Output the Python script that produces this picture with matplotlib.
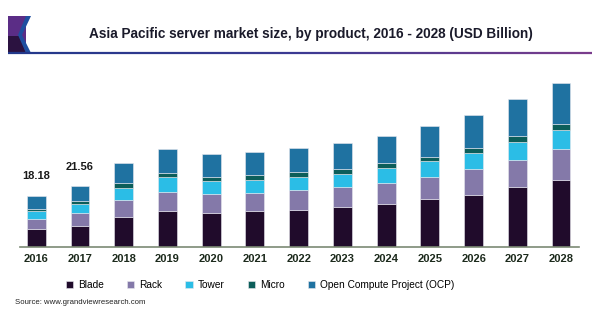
import numpy as np
import matplotlib.pyplot as plt
from matplotlib.patches import Polygon
from matplotlib.collections import LineCollection

plt.rcParams['font.family'] = ['Liberation Sans', 'DejaVu Sans']

# market size by product, USD billion
years = ['2016', '2017', '2018', '2019', '2020', '2021', '2022',
         '2023', '2024', '2025', '2026', '2027', '2028']
blade = [6.25, 7.6, 10.7, 12.7, 12.1, 12.7, 13.3, 14.1, 15.4, 17.2, 18.6, 21.4, 24.0]
rack = [3.75, 4.4, 6.05, 6.9, 6.65, 6.65, 6.9, 7.25, 7.5, 7.85, 9.0, 9.6, 10.7]
tower = [2.7, 3.3, 4.25, 5.2, 4.65, 4.65, 4.75, 4.75, 5.2, 5.45, 5.95, 6.3, 6.9]
micro = [0.9, 1.06, 1.75, 1.65, 1.65, 1.65, 1.65, 1.75, 1.65, 1.65, 1.65, 2.0, 2.15]
ocp = [4.58, 5.2, 7.25, 8.55, 8.05, 8.3, 8.65, 9.15, 9.85, 10.8, 11.9, 13.2, 14.7]
totals_shown = {0: '18.18', 1: '21.56'}

series = [('Blade', blade, '#200b2b'),
          ('Rack', rack, '#8479a9'),
          ('Tower', tower, '#2bbde6'),
          ('Micro', micro, '#0c5e5a'),
          ('Open Compute Project (OCP)', ocp, '#1f72a1')]

fig = plt.figure(figsize=(6, 3.25), dpi=100)
ax = fig.add_axes([20 / 600, 78 / 325, 559 / 600, 187 / 325])

x = np.arange(len(years))
bottom = np.zeros(len(years))
handles = []
for name, vals, col in series:
    h = ax.bar(x, vals, width=0.43, bottom=bottom, color=col,
               edgecolor='#e8e8ee', linewidth=0.4, label=name)
    handles.append(h)
    bottom += np.array(vals)

for i, txt in totals_shown.items():
    ax.text(x[i], bottom[i] + 5.2, txt, ha='center', va='bottom',
            fontsize=8, fontweight='bold', color='#1a1a1a')

ax.set_xlim(-0.37, 12.41)
ax.set_ylim(0, 66.5)
ax.set_xticks(x)
ax.set_xticklabels(years, fontsize=8, fontweight='bold', color='#1c2a1c')
ax.tick_params(axis='x', length=0, pad=5)
ax.set_yticks([])
for side in ['top', 'right', 'left']:
    ax.spines[side].set_visible(False)
ax.spines['bottom'].set_color('#7c8a74')
ax.spines['bottom'].set_linewidth(1.2)

# title and gradient rule under it
fig.text(0.518, 1 - 34 / 325, 'Asia Pacific server market size, by product, 2016 - 2028 (USD Billion)',
         ha='center', va='center', fontsize=9.8, fontweight='bold', color='#1a1a2a')
xs = np.linspace(8 / 600, 592 / 600, 120)
segs = [[(xs[k], 1 - 53 / 325), (xs[k + 1], 1 - 53 / 325)] for k in range(len(xs) - 1)]
cmap = plt.matplotlib.colors.LinearSegmentedColormap.from_list('rule', ['#22388a', '#3c3a92', '#7a3c8c'])
lc = LineCollection(segs, colors=cmap(np.linspace(0, 1, len(segs))), linewidths=1.6,
                    transform=fig.transFigure)
fig.add_artist(lc)

# logo
def px(pts):
    return [(a / 600, 1 - b / 325) for a, b in pts]

fig.add_artist(Polygon(px([(8, 16), (26, 16), (26, 53), (8, 53)]), closed=True,
                       facecolor='#5b2d86', edgecolor='none', transform=fig.transFigure))
fig.add_artist(Polygon(px([(8, 36), (20, 36), (26, 53), (8, 53)]), closed=True,
                       facecolor='#2b1240', edgecolor='none', transform=fig.transFigure))
fig.add_artist(Polygon(px([(26, 16), (31, 16), (22, 35), (31, 53), (26, 53), (18, 35)]), closed=True,
                       facecolor='#1f4fa0', edgecolor='none', transform=fig.transFigure))

fig.legend(handles=handles, loc='center', bbox_to_anchor=(260 / 600, 1 - 285 / 325),
           ncol=5, frameon=False, fontsize=7.3, handlelength=0.7, handleheight=0.7,
           handletextpad=0.5, columnspacing=2.3, borderaxespad=0)

fig.text(15 / 600, 1 - 303 / 325, 'Source: www.grandviewresearch.com',
         ha='left', va='center', fontsize=5.6, color='#222222')

fig.savefig('out.png', dpi=100)
